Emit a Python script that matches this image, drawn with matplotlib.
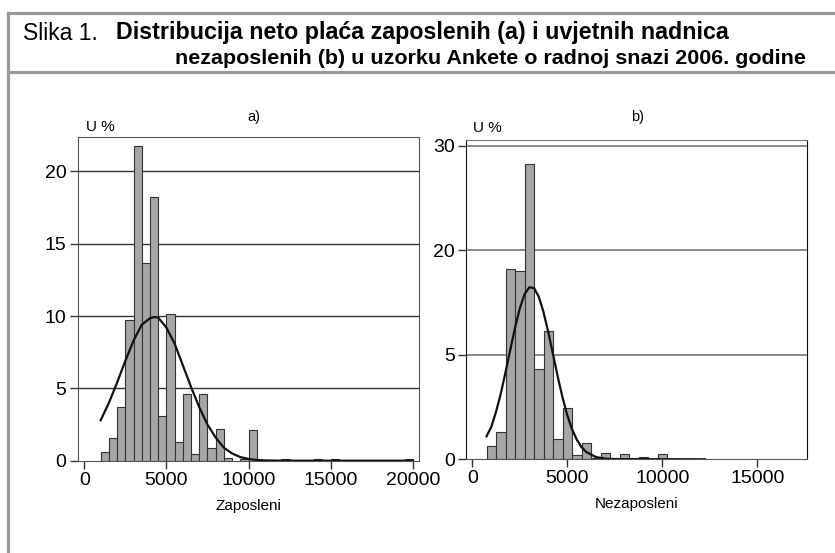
import numpy as np
import matplotlib
matplotlib.use("Agg")
import matplotlib.pyplot as plt
from matplotlib.lines import Line2D

plt.rcParams['font.family'] = ['Liberation Sans', 'DejaVu Sans']

# panel a) - zaposleni (bins of 500, left edges)
edges_a = [1000, 1500, 2000, 2500, 3000, 3500, 4000, 4500, 5000, 5500, 6000,
           6500, 7000, 7500, 8000, 8500, 9500, 10000, 10500, 12000, 14000,
           15000, 19500]
pct_a = [0.62, 1.55, 3.74, 9.72, 21.76, 13.65, 18.2, 3.12, 10.14, 1.27, 4.6,
         0.44, 4.6, 0.88, 2.17, 0.16, 0.13, 2.15, 0.06, 0.15, 0.15,
         0.15, 0.15]
curve_x_a = [1000, 1500, 2000, 2500, 3000, 3500, 4000, 4250, 4500, 5000, 5500,
             6000, 6500, 7000, 7500, 8000, 8500, 9000, 9500, 10000, 10500,
             11000, 12000, 20000]
curve_y_a = [2.8, 4.0, 5.4, 6.9, 8.3, 9.4, 9.85, 9.93, 9.9, 9.2, 8.1,
             6.6, 5.1, 3.7, 2.5, 1.6, 0.9, 0.5, 0.25, 0.12, 0.05,
             0.02, 0.0, 0.0]

# panel b) - nezaposleni
edges_b = [750, 1250, 1750, 2250, 2750, 3250, 3750, 4250, 4750, 5250, 5750,
           6250, 6750, 7250, 7750, 8250, 8750, 9250, 9750, 10250, 10750,
           11250, 11750]
pct_b = [0.66, 1.30, 17.4, 17.1, 28.3, 4.34, 8.38, 0.97, 2.44, 0.19, 0.77,
         0.05, 0.31, 0.04, 0.23, 0.05, 0.1, 0.03, 0.23, 0.03, 0.03,
         0.03, 0.03]
curve_x_b = [750, 1000, 1250, 1500, 1750, 2000, 2250, 2500, 2750, 3000, 3250,
             3500, 3750, 4000, 4250, 4500, 4750, 5000, 5250, 5500, 5750,
             6000, 6500, 7000, 7500, 12250]
curve_y_b = [1.1, 1.55, 2.27, 3.14, 4.17, 5.72, 8.89, 11.66, 13.7, 14.7, 14.6,
             13.35, 11.14, 8.27, 5.07, 3.95, 2.96, 2.11, 1.44, 0.94, 0.58,
             0.35, 0.11, 0.03, 0.01, 0.0]

ticks_b = [0, 5, 20, 30]
W, H = 835, 553


def fwd(y):
    y = np.asarray(y, dtype=float)
    out = np.interp(y, ticks_b, [0, 1, 2, 3])
    return np.where(y > 30, 3 + (y - 30) / 10.0, out)


def inv(v):
    v = np.asarray(v, dtype=float)
    out = np.interp(v, [0, 1, 2, 3], ticks_b)
    return np.where(v > 3, 30 + (v - 3) * 10.0, out)


def px_axes(l, t, r, b):
    return [l / W, 1 - b / H, (r - l) / W, (b - t) / H]


fig = plt.figure(figsize=(W / 100, H / 100), dpi=100)
renderer = fig.canvas.get_renderer()


def fit_width(txt, width_px):
    # shrink/grow font so the line spans the width seen in the reference
    w = txt.get_window_extent(renderer).width
    txt.set_fontsize(txt.get_fontsize() * width_px / w)


# frame around the figure
frame = '#999999'
for xs, ys in [((8, W), (13, 13)), ((8, W), (72, 72)), ((8, 8), (13, H))]:
    fig.add_artist(Line2D([x / W for x in xs], [1 - y / H for y in ys],
                          color=frame, lw=2.3))

fig.text(23 / W, 1 - 33 / H, 'Slika 1.', fontsize=16.5, va='center')
t1 = fig.text(116 / W, 1 - 33 / H,
              'Distribucija neto plaća zaposlenih (a) i uvjetnih nadnica',
              fontsize=15, fontweight='bold', va='center')
t2 = fig.text(175 / W, 1 - 59 / H,
              'nezaposlenih (b) u uzorku Ankete o radnoj snazi 2006. godine',
              fontsize=15, fontweight='bold', va='center')
fit_width(t1, 615)
fit_width(t2, 630)

bar_kw = dict(width=500, align='edge', color='#a6a6a6', edgecolor='#333333',
              linewidth=0.8, zorder=2)

# ---- panel a
ax1 = fig.add_axes(px_axes(77.7, 136.7, 419.3, 460.7))
ax1.bar(edges_a, pct_a, **bar_kw)
ax1.plot(curve_x_a, curve_y_a, color='#111111', lw=1.6, zorder=3)
ax1.set_xlim(-400, 20400)
ax1.set_ylim(0, 22.4)
ax1.set_xticks([0, 5000, 10000, 15000, 20000])
ax1.set_yticks([0, 5, 10, 15, 20])
for v in [5, 10, 15, 20]:
    ax1.axhline(v, color='#333333', lw=1.0, zorder=1)
for s in ax1.spines.values():
    s.set_color('#555555')
ax1.set_xlabel('Zaposleni', fontsize=11, labelpad=7)

# ---- panel b
ax2 = fig.add_axes(px_axes(466, 140, 806.7, 459.3))
ax2.set_yscale('function', functions=(fwd, inv))
ax2.bar(edges_b, pct_b, **bar_kw)
ax2.plot(curve_x_b, curve_y_b, color='#111111', lw=1.6, zorder=3)
ax2.set_xlim(-330, 17600)
ax2.set_ylim(0, 30.57)
ax2.set_xticks([0, 5000, 10000, 15000])
ax2.set_yticks(ticks_b)
ax2.set_yticklabels([str(t) for t in ticks_b])
ax2.yaxis.set_minor_locator(matplotlib.ticker.NullLocator())
for v in [5, 20, 30]:
    ax2.axhline(v, color='#777777', lw=1.2, zorder=1)
ax2.spines['left'].set_color('#111111')
ax2.spines['right'].set_color('#111111')
ax2.spines['top'].set_color('#777777')
ax2.spines['bottom'].set_color('#555555')
ax2.set_xlabel('Nezaposleni', fontsize=11, labelpad=7)

for ax in (ax1, ax2):
    ax.tick_params(labelsize=14, length=6, width=1, color='#333333', pad=2)
    ax.set_facecolor('white')

fig.text(100 / W, 1 - 127 / H, 'U %', fontsize=11, ha='center', va='center')
fig.text(487 / W, 1 - 128 / H, 'U %', fontsize=11, ha='center', va='center')
fig.text(254 / W, 1 - 117 / H, 'a)', fontsize=10.5, ha='center', va='center')
fig.text(638 / W, 1 - 117 / H, 'b)', fontsize=10.5, ha='center', va='center')

fig.savefig('out.png', dpi=100)
